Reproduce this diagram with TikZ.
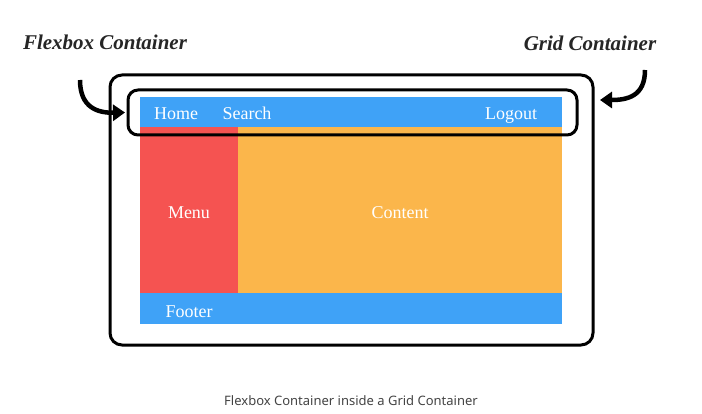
\documentclass[tikz,border=0pt]{standalone}
\usepackage{fontspec}
\setmainfont{Liberation Serif}
\newfontfamily\capfont{Noto Sans}
\usetikzlibrary{arrows.meta}
\definecolor{barblue}{HTML}{3FA2F7}
\definecolor{menured}{HTML}{F55351}
\definecolor{contentorange}{HTML}{FBB64B}
\definecolor{capgray}{HTML}{444444}
\tikzset{
  area/.style={draw=none,inner sep=0pt,outer sep=0pt},
  boxtext/.style={text=white,font=\fontsize{18}{20}\selectfont,text height=12pt,text depth=4pt},
  frame/.style={draw=black,line width=3pt,rounded corners=12pt,inner sep=0pt,outer sep=0pt},
  tag/.style={font=\fontsize{21}{24}\selectfont\bfseries\itshape,text=black!85},
  pointer/.style={line width=4.5pt,-{Triangle[width=16pt,length=12pt]}}
}
\begin{document}
\begin{tikzpicture}[x=1pt,y=-1pt]
\useasboundingbox[fill=white] (0,0) rectangle (702,414);
% layout areas
\node[area,fill=barblue,minimum width=422pt,minimum height=30pt] (header) at (351,112.5) {};
\node[area,fill=menured,minimum width=98pt,minimum height=166pt] (menu) at (189,210) {};
\node[area,fill=contentorange,minimum width=324pt,minimum height=166pt] (content) at (400,210) {};
\node[area,fill=barblue,minimum width=422pt,minimum height=31pt] (footer) at (351,308.5) {};
% texts
\node[boxtext] (home) at (176,116) {Home};
\node[boxtext] (search) at (247,116) {Search};
\node[boxtext] (logout) at (511,116) {Logout};
\node[boxtext] (menutext) at (189,215) {Menu};
\node[boxtext] (contenttext) at (400,215) {Content};
\node[boxtext] (footertext) at (189,313) {Footer};
% containers
\node[frame,minimum width=483pt,minimum height=270pt] (grid) at (351.5,210) {};
\node[frame,rounded corners=10pt,minimum width=449pt,minimum height=45pt] (flexbox) at (352.5,112.5) {};
% labels and arrows
\node[tag] (flexlabel) at (105,42) {Flexbox Container};
\node[tag] (gridlabel) at (590,43) {Grid Container};
\coordinate (flexstart) at (80,80);
\coordinate (gridstart) at (645,70);
\coordinate (gridtip) at (600,100);
\draw[pointer] (flexstart) .. controls (80,108) and (98,113) .. ([xshift=-3pt]flexbox.west);
\draw[pointer] (gridstart) .. controls (645,96) and (628,100) .. (gridtip);
\node[font=\capfont\fontsize{13}{15}\selectfont,text=capgray] (caption) at (351,401) {Flexbox Container inside a Grid Container};
\end{tikzpicture}
\end{document}
